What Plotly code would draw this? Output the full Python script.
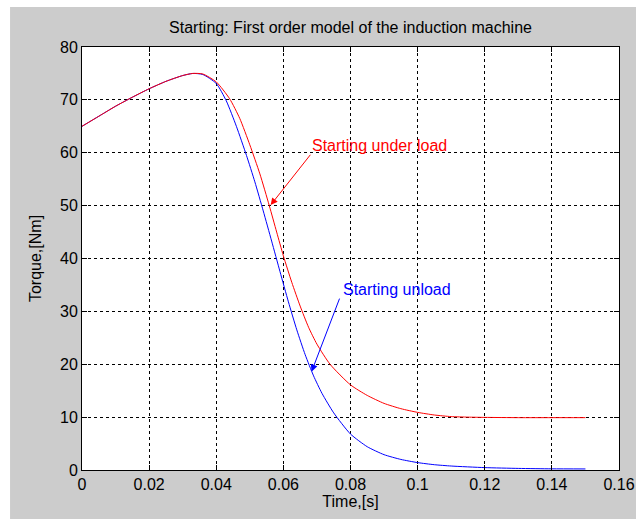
import plotly.graph_objects as go

# Data
t_load = [0, 0.005, 0.01, 0.015, 0.02, 0.025, 0.03, 0.033, 0.036, 0.04, 0.044, 0.047,
          0.050, 0.053, 0.0558, 0.058, 0.060, 0.0625, 0.065, 0.0675, 0.070, 0.0739, 0.08,
          0.085, 0.09, 0.095, 0.10, 0.105, 0.11, 0.115, 0.12, 0.13, 0.14, 0.15]
torque_load = [65, 66.9, 68.8, 70.5, 72.1, 73.5, 74.6, 75, 74.9, 73.4, 70.2, 66.5,
               61.5, 56, 50, 45, 40.5, 35.5, 31, 27, 23.8, 20, 16.1,
               14.1, 12.6, 11.6, 10.9, 10.4, 10.1, 10.0, 9.95, 9.9, 9.9, 9.9]

t_unload = [0, 0.005, 0.01, 0.015, 0.02, 0.025, 0.03, 0.033, 0.036, 0.04, 0.043, 0.046,
            0.049, 0.0515, 0.054, 0.0565, 0.059, 0.0615, 0.064, 0.0665, 0.069, 0.0715,
            0.075, 0.08, 0.085, 0.09, 0.095, 0.10, 0.105, 0.11, 0.12, 0.13, 0.14, 0.15]
torque_unload = [65, 66.9, 68.8, 70.5, 72.1, 73.5, 74.6, 75, 74.8, 73.1, 69.8, 65,
                 59.5, 54.5, 49, 43.3, 37.5, 31.8, 26.5, 21.8, 17.8, 14.5,
                 10.8, 6.8, 4.4, 2.9, 2.0, 1.4, 1.0, 0.75, 0.45, 0.3, 0.22, 0.2]

x_ticks = [0, 0.02, 0.04, 0.06, 0.08, 0.1, 0.12, 0.14, 0.16]
x_tick_labels = ["0", "0.02", "0.04", "0.06", "0.08", "0.1", "0.12", "0.14", "0.16"]
y_ticks = [0, 10, 20, 30, 40, 50, 60, 70, 80]
y_tick_labels = ["0", "10", "20", "30", "40", "50", "60", "70", "80"]

FONT = "Liberation Sans, Arial, sans-serif"
GREY = "#cccccc"
FS = 16

fig = go.Figure()
fig.add_trace(go.Scatter(x=t_unload, y=torque_unload, mode="lines",
                         line=dict(color="#0000ff", width=1, shape="spline", smoothing=0.6),
                         name="Starting unload", hoverinfo="skip"))
fig.add_trace(go.Scatter(x=t_load, y=torque_load, mode="lines",
                         line=dict(color="#ff0000", width=1, shape="spline", smoothing=0.6),
                         name="Starting under load", hoverinfo="skip"))

axis_common = dict(
    showline=True, linecolor="black", linewidth=1, mirror="ticks",
    ticks="inside", ticklen=5, tickcolor="black", tickwidth=1,
    showgrid=True, gridcolor="black", griddash="3px,3px", gridwidth=1,
    zeroline=False, automargin=False,
    tickfont=dict(family=FONT, size=FS, color="black"),
)

fig.update_xaxes(range=[0, 0.16], tickvals=x_ticks, ticktext=x_tick_labels,
                 title=dict(text="Time,[s]", font=dict(family=FONT, size=FS, color="black"),
                            standoff=2),
                 **axis_common)
fig.update_yaxes(range=[0, 80], tickvals=y_ticks, ticktext=y_tick_labels,
                 title=dict(text="Torque,[Nm]", font=dict(family=FONT, size=FS, color="black"),
                            standoff=14),
                 **axis_common)

# Annotations with arrows
fig.add_annotation(x=0.0562, y=50.1, ax=0.0684, ay=59.9, xref="x", yref="y",
                   axref="x", ayref="y", text="", showarrow=True, arrowhead=2,
                   arrowsize=1.4, arrowwidth=1, arrowcolor="#ff0000")
fig.add_annotation(x=0.0679, y=61.3, xref="x", yref="y", text="Starting under load",
                   showarrow=False, xanchor="left", yanchor="middle",
                   font=dict(family=FONT, size=FS, color="#ff0000"))
fig.add_annotation(x=0.0684, y=18.6, ax=0.0769, ay=32.7, xref="x", yref="y",
                   axref="x", ayref="y", text="", showarrow=True, arrowhead=2,
                   arrowsize=1.4, arrowwidth=1, arrowcolor="#0000ff")
fig.add_annotation(x=0.0772, y=34.2, xref="x", yref="y", text="Starting unload",
                   showarrow=False, xanchor="left", yanchor="middle",
                   font=dict(family=FONT, size=FS, color="#0000ff"))

# White strips outside the grey figure area (top and left)
fig.add_shape(type="rect", xref="paper", yref="paper", x0=-0.3, x1=1.2, y0=1.0946, y1=1.3,
              fillcolor="white", line=dict(width=0), layer="below")
fig.add_shape(type="rect", xref="paper", yref="paper", x0=-0.3, x1=-0.134, y0=-0.3, y1=1.3,
              fillcolor="white", line=dict(width=0), layer="below")

fig.update_layout(
    width=636, height=519,
    margin=dict(l=82, r=17, t=47, b=49, autoexpand=False),
    paper_bgcolor=GREY, plot_bgcolor="white",
    showlegend=False,
    title=dict(text="Starting: First order model of the induction machine",
               x=0.5, xref="paper", xanchor="center", y=1 - 27 / 519, yanchor="middle",
               font=dict(family=FONT, size=FS, color="black")),
)

fig.write_html("out.html")
